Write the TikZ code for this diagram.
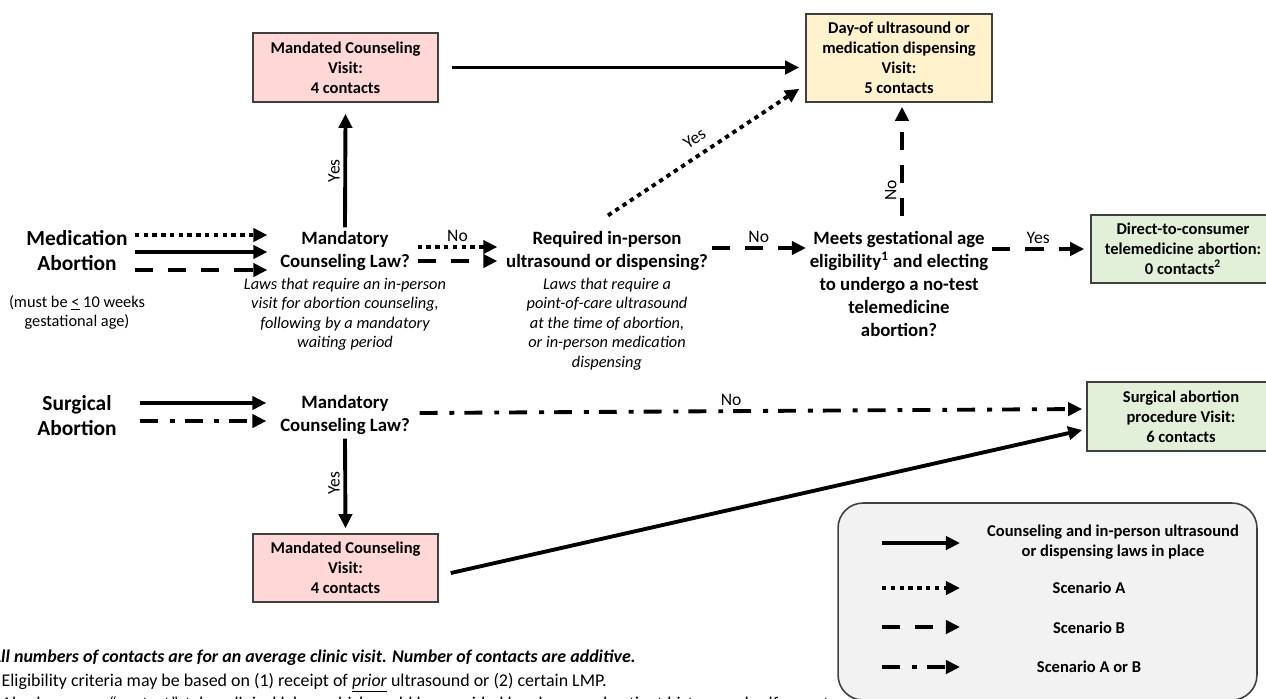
\documentclass[tikz,border=0pt]{standalone}
\usepackage{fontspec}
\setmainfont{Carlito}
\usepackage{tikz}
\usetikzlibrary{arrows.meta,positioning,calc}

\definecolor{visitpink}{HTML}{FFD7D7}
\definecolor{visityellow}{HTML}{FFF2CC}
\definecolor{visitgreen}{HTML}{E2F0D9}
\definecolor{legendgray}{HTML}{F2F2F2}
\definecolor{boxline}{HTML}{404040}

\newcommand{\fntbig}{\fontsize{12.2}{14.2}\selectfont\bfseries}
\newcommand{\fntdec}{\fontsize{10.7}{13.1}\selectfont\bfseries}
\newcommand{\fntbox}{\fontsize{9.4}{11.3}\selectfont\bfseries}
\newcommand{\fntnote}{\fontsize{9.3}{11.1}\selectfont\itshape}
\newcommand{\fntsmall}{\fontsize{9.3}{10.8}\selectfont}
\newcommand{\fntlbl}{\fontsize{10}{12}\selectfont}
\newcommand{\fntfoot}{\fontsize{10.2}{13.3}\selectfont}

\begin{document}
\begin{tikzpicture}[x=0.02cm, y=-0.02cm,
  visit/.style={rectangle, draw=boxline, line width=0.9pt, align=center, font=\fntbox, inner sep=2pt},
  question/.style={align=center, font=\fntdec, inner sep=2pt},
  lawnote/.style={align=center, font=\fntnote, inner sep=2pt},
  lbl/.style={font=\fntlbl, inner sep=2pt},
  keytext/.style={align=center, font=\fntbox},
  arrow/.style={-{Triangle[length=8pt, width=7.5pt]}, line width=2.2pt},
  dotarrow/.style={arrow, dash pattern=on 2.5pt off 2.5pt},
  dasharrow/.style={arrow, dash pattern=on 10.4pt off 8.5pt},
  dotdasharrow/.style={arrow, dash pattern=on 10.2pt off 6.8pt on 2.8pt off 5.7pt},
]
\useasboundingbox (0,0) rectangle (1266,698);
\clip (0,0) rectangle (1266,698);

% medication abortion
\node[font=\fntbig, align=center] (medab) at (77,251) {Medication\\Abortion};
\node[font=\fntsmall, align=center] (medage) at (77,312) {(must be \underline{<} 10 weeks\\gestational age)};
\node[question] (cnsl) at (345,251) {Mandatory\\Counseling Law?};
\node[lawnote] (cnslnote) at (345,314) {Laws that require an in-person\\visit for abortion counseling,\\following by a mandatory\\waiting period};
\node[question] (usreq) at (607,251) {Required in-person\\ultrasound or dispensing?};
\node[lawnote] (usnote) at (607,324) {Laws that require a\\point-of-care ultrasound\\at the time of abortion,\\or in-person medication\\dispensing};
\node[question] (gest) at (899,284) {Meets gestational age\\eligibility\textsuperscript{1} and electing\\to undergo a no-test\\telemedicine\\abortion?};
\node[visit, fill=visitgreen, minimum width=3.68cm, minimum height=1.36cm] (dtc) at (1183,249) {Direct-to-consumer\\telemedicine abortion:\\0 contacts\textsuperscript{2}};
\node[visit, fill=visitpink, minimum width=3.7cm, minimum height=1.38cm] (cnslvisit) at (345.5,67.5) {Mandated Counseling\\Visit:\\4 contacts};
\node[visit, fill=visityellow, minimum width=3.72cm, minimum height=1.76cm] (dayof) at (899,58) {Day-of ultrasound or\\medication dispensing\\Visit:\\5 contacts};

% surgical abortion
\node[font=\fntbig, align=center] (surgab) at (77,416) {Surgical\\Abortion};
\node[question] (scnsl) at (345,415) {Mandatory\\Counseling Law?};
\node[visit, fill=visitpink, minimum width=3.7cm, minimum height=1.36cm] (scnslvisit) at (345.5,568) {Mandated Counseling\\Visit:\\4 contacts};
\node[visit, fill=visitgreen, minimum width=3.76cm, minimum height=1.38cm] (surgvisit) at (1181,416.5) {Surgical abortion\\procedure Visit:\\6 contacts};

\draw[dotarrow] ($(medab.east)+(1,-16)$) -- ($(cnsl.west)+(-9,-16)$);
\draw[arrow] ($(medab.east)+(1,1)$) -- ($(cnsl.west)+(-9,1)$);
\draw[dasharrow] ($(medab.east)+(1,19)$) -- ($(cnsl.west)+(-9,19)$);
\draw[arrow] (cnsl.north) -- node[lbl, rotate=90, anchor=south] (yes1) {Yes} ($(cnslvisit.south)+(0,11)$);
\draw[arrow] ($(cnslvisit.east)+(13,0)$) -- ($(dayof.west |- cnslvisit.east)+(-6,0)$);
\draw[dotarrow] ($(cnsl.east)+(4,-4)$) -- node[lbl, above] (no1) {No} ($(usreq.west)+(-5,-4)$);
\draw[dasharrow] ($(cnsl.east)+(4,10)$) -- ($(usreq.west)+(-5,10)$);
\draw[dotarrow] ($(usreq.north)+(1,-12)$) -- node[lbl, sloped, above=3pt] (yes2) {Yes} ($(dayof.south west)+(-6,-14)$);
\draw[dasharrow] ($(usreq.east)+(0,-3)$) -- node[lbl, above] (no2) {No} ($(gest.west |- usreq.east)+(0,-3)$);
\draw[dasharrow] ($(gest.north)+(3,-11)$) -- node[lbl, rotate=90, anchor=south, pos=0.24] (no3) {No} ($(dayof.south)+(3,4)$);
\draw[dasharrow] (gest.east |- dtc.west) -- node[lbl, above] (yes3) {Yes} ($(dtc.west)+(-6,0)$);

\draw[arrow] ($(surgab.east)+(17,-13)$) -- ($(scnsl.west)+(-10,-12)$);
\draw[dotdasharrow] ($(surgab.east)+(17,5)$) -- ($(scnsl.west)+(-10,6)$);
\draw[dotdasharrow] ($(scnsl.east)+(6,-2)$) -- node[lbl, above, pos=0.47] (no4) {No} ($(surgvisit.west)+(-4,-7.5)$);
\draw[arrow] (scnsl.south) -- node[lbl, rotate=90, anchor=south] (yes4) {Yes} ($(scnslvisit.north)+(0,-5)$);
\draw[arrow] ($(scnslvisit.east)+(12,5)$) -- ($(surgvisit.west)+(-4,13.5)$);

% footnotes
\node[font=\fntfoot, align=left, anchor=north west, inner sep=0pt] (footnotes) at (-10,650) {\textbf{\textit{All numbers of contacts are for an average clinic visit. Number of contacts are additive.}}\\\textsuperscript{1} Eligibility criteria may be based on (1) receipt of \underline{\textit{prior}} ultrasound or (2) certain LMP.\\\textsuperscript{2} Also known as “contact”, takes clinical labor, which could be provided by phone and patient history and self-report.};

% legend
\node[draw=boxline, line width=0.9pt, fill=legendgray, rounded corners=0.5cm, minimum width=8.38cm, minimum height=3.94cm] (legend) at (1047.5,601.5) {};
\coordinate (keyA1) at (882,543); \coordinate (keyA2) at (960,543);
\coordinate (keyB1) at (882,588); \coordinate (keyB2) at (960,588);
\coordinate (keyC1) at (882,627); \coordinate (keyC2) at (960,627);
\coordinate (keyD1) at (882,667); \coordinate (keyD2) at (960,667);
\draw[arrow] (keyA1) -- (keyA2);
\draw[dotarrow] (keyB1) -- (keyB2);
\draw[dasharrow] (keyC1) -- (keyC2);
\draw[dotdasharrow] (keyD1) -- (keyD2);
\node[keytext] (keytxtA) at (1113,542.5) {Counseling and in-person ultrasound\\or dispensing laws in place};
\node[keytext] (keytxtB) at (1089,588) {Scenario A};
\node[keytext] (keytxtC) at (1089,628) {Scenario B};
\node[keytext] (keytxtD) at (1089,667) {Scenario A or B};
\end{tikzpicture}
\end{document}
